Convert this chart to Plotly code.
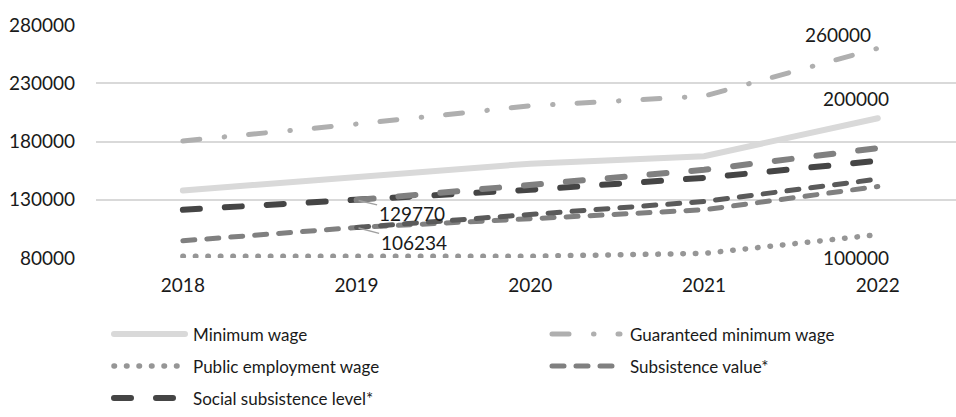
import plotly.graph_objects as go

# ---- data -------------------------------------------------------------
years = [2018, 2019, 2020, 2021, 2022]

minimum_wage = [138000, 149000, 161000, 167400, 200000]
guaranteed_minimum_wage = [180500, 195000, 210600, 219000, 260000]
public_employment_wage = [81530, 81530, 81530, 83970, 100000]
subsistence_value = [94800, 106234, 113700, 121400, 141400]
social_subsistence_level = [121400, 129770, 138600, 148800, 163400]
subsistence_value_variant = [None, 106234, 117100, 128500, 147700]
social_subsistence_variant = [None, 129770, 142800, 155700, 174300]

y_ticks = [80000, 130000, 180000, 230000, 280000]

# ---- styles -----------------------------------------------------------
FONT = "Lato"
TEXT = "#1a1a1a"
C_MIN = "#d9d9d9"
C_GUAR = "#afafaf"
C_PUB = "#969696"
C_GRAY = "#808080"
C_DARK = "#454545"

DASH_GUAR = "17px,24.5px,0.5px,24px"
DASH_DOT = "0.5px,12px"
DASH_SHORT = "12px,12px"
DASH_LONG = "17px,25px"

series = [
    # name, values, colour, width, dash, in legend
    ("Minimum wage", minimum_wage, C_MIN, 6, "solid", True),
    ("Guaranteed minimum wage", guaranteed_minimum_wage, C_GUAR, 5, DASH_GUAR, True),
    ("Public employment wage", public_employment_wage, C_PUB, 5.5, DASH_DOT, True),
    ("Subsistence value*", subsistence_value, C_GRAY, 5, DASH_SHORT, True),
    ("Social subsistence level*", social_subsistence_level, C_DARK, 6, DASH_LONG, True),
    ("Subsistence value* (variant)", subsistence_value_variant, "#5a5a5a", 5, DASH_SHORT, False),
    ("Social subsistence level* (variant)", social_subsistence_variant, C_GRAY, 6, DASH_LONG, False),
]

fig = go.Figure()
for name, vals, col, w, dash, _ in series:
    fig.add_trace(go.Scatter(
        x=years, y=vals, name=name, mode="lines",
        line=dict(color=col, width=w, dash=dash),
        connectgaps=False, showlegend=False, hoverinfo="x+y+name",
    ))

# ---- value labels -----------------------------------------------------
lab_font = dict(family=FONT, size=19, color=TEXT)
fig.add_annotation(x=years[4], y=guaranteed_minimum_wage[4], text=f"{guaranteed_minimum_wage[4]}",
                   showarrow=False, xanchor="right", yanchor="bottom", xshift=-5, yshift=0, font=lab_font)
fig.add_annotation(x=years[4], y=minimum_wage[4], text=f"{minimum_wage[4]}",
                   showarrow=False, xanchor="center", yanchor="bottom", xshift=-22, yshift=6, font=lab_font)
fig.add_annotation(x=years[4], y=public_employment_wage[4], text=f"{public_employment_wage[4]}",
                   showarrow=False, xanchor="center", yanchor="top", xshift=-22, yshift=-9, font=lab_font)
fig.add_annotation(x=years[1], y=social_subsistence_level[1], text=f"{social_subsistence_level[1]}",
                   showarrow=True, arrowhead=0, arrowwidth=1.5, arrowcolor="#a0a0a0",
                   ax=55, ay=13, standoff=2, font=lab_font)
fig.add_annotation(x=years[1], y=subsistence_value[1], text=f"{subsistence_value[1]}",
                   showarrow=True, arrowhead=0, arrowwidth=1.5, arrowcolor="#a0a0a0",
                   ax=57, ay=15, standoff=2, font=lab_font)

# ---- legend (drawn below the plot, two columns) -------------------------
PLOT_L, PLOT_W, PLOT_B, PLOT_H = 96, 860, 258, 233
def px_x(p):
    return (p - PLOT_L) / PLOT_W
def px_y(p):
    return (PLOT_B - p) / PLOT_H

legend_slots = [  # (line start, line end, text x, row y) in pixels
    (114, 185, 191, 334),
    (552, 620, 628, 334),
    (114, 185, 191, 366),
    (552, 619, 628, 366),
    (114, 180, 191, 398),
]
legend_items = [s for s in series if s[5]]
for (x0, x1, tx, ry), (name, _, col, w, dash, _) in zip(legend_slots, legend_items):
    fig.add_shape(type="line", xref="paper", yref="paper",
                  x0=px_x(x0), x1=px_x(x1), y0=px_y(ry), y1=px_y(ry),
                  line=dict(color=col, width=w, dash=dash))
    fig.add_annotation(xref="paper", yref="paper", x=px_x(tx), y=px_y(ry), text=name,
                       showarrow=False, xanchor="left", yanchor="middle",
                       font=dict(family=FONT, size=17, color=TEXT))

fig.update_layout(
    width=956, height=417,
    margin=dict(l=96, r=0, t=25, b=159),
    paper_bgcolor="white", plot_bgcolor="white",
    font=dict(family=FONT, size=18, color=TEXT),
    showlegend=False,
    xaxis=dict(range=[2017.5, 2022.45], tickvals=years, ticktext=[str(y) for y in years],
               showgrid=False, showline=False, zeroline=False, ticks="", ticklabelstandoff=14,
               tickfont=dict(family=FONT, size=19, color=TEXT), fixedrange=True),
    yaxis=dict(range=[80000, 280000], tickvals=y_ticks, ticktext=[str(v) for v in y_ticks],
               showgrid=True, gridcolor="#d9d9d9", gridwidth=2, zeroline=False,
               showline=False, ticks="", ticklabelstandoff=20,
               tickfont=dict(family=FONT, size=19, color=TEXT), fixedrange=True),
)

round_caps = """
var s = document.createElement('style');
s.textContent = '.scatterlayer path.js-line, .shapelayer path { stroke-linecap: round !important; }';
document.head.appendChild(s);
"""
fig.write_html("out.html", post_script=round_caps, config={"displayModeBar": False})
